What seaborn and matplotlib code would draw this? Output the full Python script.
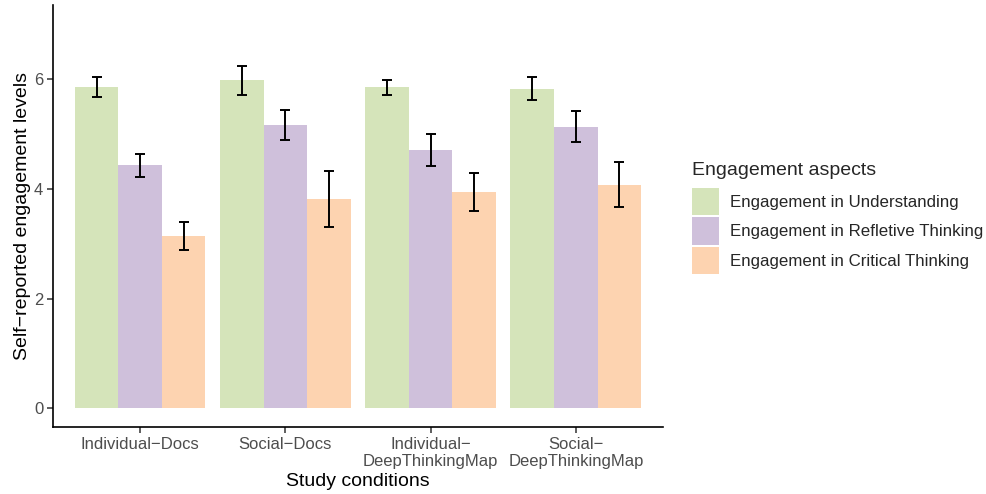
import matplotlib
matplotlib.use("Agg")
import matplotlib.pyplot as plt
import seaborn as sns
import pandas as pd
import numpy as np

conditions = ["Individual\u2212Docs", "Social\u2212Docs",
              "Individual\u2212\nDeepThinkingMap", "Social\u2212\nDeepThinkingMap"]
aspects = ["Engagement in Understanding", "Engagement in Refletive Thinking",
           "Engagement in Critical Thinking"]

understanding = [5.85, 5.98, 5.85, 5.82]
reflective = [4.43, 5.16, 4.71, 5.12]
critical = [3.14, 3.81, 3.94, 4.07]

understanding_lo = [5.68, 5.71, 5.71, 5.61]
understanding_hi = [6.04, 6.24, 5.98, 6.04]
reflective_lo = [4.22, 4.89, 4.41, 4.85]
reflective_hi = [4.63, 5.44, 5.00, 5.42]
critical_lo = [2.89, 3.30, 3.59, 3.67]
critical_hi = [3.40, 4.32, 4.29, 4.48]

palette = ["#d5e4ba", "#cfc0db", "#fdd3b0"]

means = [understanding, reflective, critical]
lows = [understanding_lo, reflective_lo, critical_lo]
highs = [understanding_hi, reflective_hi, critical_hi]

rows = []
for a, m, lo, hi in zip(aspects, means, lows, highs):
    for c, v, l, h in zip(conditions, m, lo, hi):
        rows.append({"condition": c, "aspect": a, "mean": v, "lo": l, "hi": h})
df = pd.DataFrame(rows)

sns.set_theme(style="ticks")
plt.rcParams["font.family"] = ["Liberation Sans", "DejaVu Sans"]

fig = plt.figure(figsize=(9.87, 4.94), dpi=100)
ax = fig.add_axes([53 / 987, 1 - 427 / 494, 610 / 987, 422 / 494])

sns.barplot(data=df, x="condition", y="mean", hue="aspect", order=conditions,
            hue_order=aspects, palette=palette, width=0.9, errorbar=None,
            saturation=1, linewidth=0, ax=ax)

# error bars placed on each bar centre
for i, a in enumerate(aspects):
    cont = ax.containers[i]
    sub = df[df["aspect"] == a].set_index("condition").loc[conditions]
    xs = [p.get_x() + p.get_width() / 2 for p in cont.patches]
    yerr = np.vstack([sub["mean"] - sub["lo"], sub["hi"] - sub["mean"]])
    ax.errorbar(xs, sub["mean"], yerr=yerr, fmt="none", ecolor="black",
                elinewidth=1.4, capsize=3.4, capthick=1.4, zorder=5)

ax.set_xlim(-0.6, 3.6)
ax.set_ylim(-0.34, 7.35)
ax.set_yticks([0, 2, 4, 6])
ax.set_facecolor("white")
for s in ["top", "right"]:
    ax.spines[s].set_visible(False)
for s in ["left", "bottom"]:
    ax.spines[s].set_linewidth(1.2)
    ax.spines[s].set_color("black")
ax.tick_params(axis="both", which="both", top=False, right=False,
               direction="out", length=4, width=1.1, color="#333333",
               labelsize=12, labelcolor="#4d4d4d", pad=3)
ax.tick_params(axis="x", pad=3)
ax.grid(False)
ax.set_xlabel("Study conditions", fontsize=14, color="black", labelpad=3)
ax.set_ylabel("Self\u2212reported engagement levels", fontsize=14, color="black",
              labelpad=2)

handles, labels = ax.get_legend_handles_labels()
if ax.legend_ is not None:
    ax.legend_.remove()
leg = fig.legend(handles, labels, title="Engagement aspects",
                 loc="upper left", bbox_to_anchor=(687 / 987, 1 - 157 / 494),
                 frameon=False, fontsize=12.2, title_fontsize=14,
                 handlelength=1.6, handleheight=2.1, labelspacing=0.12,
                 handletextpad=0.65, borderaxespad=0, borderpad=0.3)
leg._legend_box.align = "left"
leg._legend_box.sep = 6.5

fig.savefig("out.png", dpi=100, facecolor="white")
